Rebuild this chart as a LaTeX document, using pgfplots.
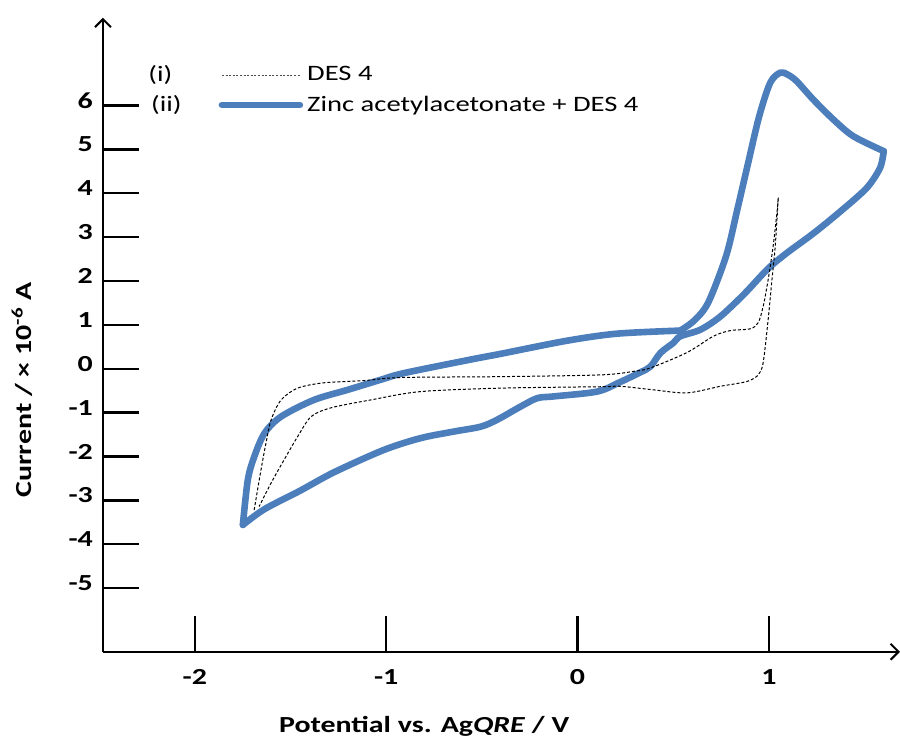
\documentclass[border=0pt]{standalone}
\usepackage{fontspec}
\setmainfont{Carlito}[FakeStretch=1.3]
\usepackage{pgfplots}
\pgfplotsset{compat=1.18}
\usetikzlibrary{arrows.meta}
\definecolor{cvblue}{RGB}{76,126,188}

\begin{document}
\begin{tikzpicture}
\begin{axis}[
  scale only axis, width=398.5pt, height=317pt,
  xmin=-2.48, xmax=1.685, ymin=-6.45, ymax=8.0,
  axis lines=left, clip=false,
  axis line style={line width=1.2pt, -{Straight Barb[length=4pt,width=8pt,line width=1pt]}},
  tick align=inside, major tick length=18pt,
  tick style={line width=1.2pt, black},
  xtick={-2,-1,0,1}, xticklabels={-2,-1,0,1},
  ytick={-5,-4,-3,-2,-1,0,1,2,3,4,5,6},
  yticklabels={-5,-4,-3,-2,-1,0,1,2,3,4,5,6},
  ticklabel style={font=\fontsize{11.5}{13}\selectfont\bfseries},
  xticklabel style={yshift=-5.5pt},
  yticklabel style={yshift=2.5pt, xshift=-1.5pt},
  xlabel={Potential vs. Ag\textit{QRE} / V},
  ylabel={Current / × 10\textsuperscript{-6} A},
  label style={font=\fontsize{11.5}{13}\selectfont\bfseries},
  xlabel style={at={(axis description cs:0.403,-0.117)}, anchor=center},
  ylabel style={at={(axis description cs:-0.1016,0.413)}, anchor=center},
  legend style={draw=none, fill=none, at={(axis description cs:0.0565,0.93)}, anchor=north west,
    font=\fontsize{11}{13}\selectfont, row sep=2pt, inner sep=0pt,
    /tikz/every even column/.append style={column sep=5pt}},
  legend cell align=left, reverse legend,
]
% (ii) zinc acetylacetonate + DES 4
\addplot[cvblue, line width=3.3pt, smooth, tension=0.5, line cap=round, line join=round,
  legend image code/.code={\node[anchor=west,inner sep=0pt,text=black] at (-37pt,0pt) {(ii)};
    \draw[cvblue, line width=3.3pt] (0pt,0pt) -- (39pt,0pt);}]
  coordinates {(-1.749,-3.56) (-1.723,-2.53) (-1.689,-2.00) (-1.636,-1.47) (-1.549,-1.09)
    (-1.377,-0.71) (-1.201,-0.48) (-1.028,-0.25) (-0.908,-0.10) (-0.558,0.21) (-0.402,0.34)
    (-0.054,0.64) (0.207,0.80) (0.537,0.87)};
\addlegendentry{Zinc acetylacetonate + DES 4}
\addplot[forget plot, cvblue, line width=3.3pt, smooth, tension=0.5, line cap=round, line join=round]
  coordinates {(0.537,0.87) (0.610,1.10) (0.683,1.51) (0.777,2.58) (0.835,3.63) (0.892,4.70)
    (0.949,5.75) (1.007,6.52) (1.060,6.75) (1.100,6.70) (1.146,6.55) (1.233,6.13) (1.337,5.68)
    (1.441,5.30) (1.600,4.96)};
\addplot[forget plot, cvblue, line width=3.3pt, smooth, tension=0.5, line cap=round, line join=round]
  coordinates {(1.600,4.96) (1.581,4.58) (1.511,4.12) (1.372,3.58) (1.231,3.08) (1.094,2.64)
    (0.995,2.28) (0.870,1.70) (0.746,1.19) (0.642,0.89) (0.537,0.74) (0.501,0.59) (0.433,0.36)
    (0.381,0.05) (0.329,-0.08) (0.224,-0.30) (0.103,-0.52) (-0.124,-0.63) (-0.210,-0.67)
    (-0.297,-0.86) (-0.419,-1.16) (-0.506,-1.32) (-0.645,-1.43) (-0.819,-1.58) (-1.012,-1.85)
    (-1.273,-2.36) (-1.450,-2.78) (-1.636,-3.20) (-1.749,-3.56)};
% (i) DES 4
\addplot[black, line width=0.5pt, dash pattern=on 1.5pt off 1pt, smooth, tension=0.5,
  legend image code/.code={\node[anchor=west,inner sep=0pt,text=black] at (-37pt,0pt) {(i)};
    \draw[black!70, line width=0.5pt, dash pattern=on 1pt off 0.8pt] (0pt,0pt) -- (39pt,0pt);}]
  coordinates {(-1.690,-3.22) (-1.654,-2.30) (-1.628,-1.69) (-1.601,-1.16) (-1.549,-0.71)
    (-1.462,-0.44) (-1.325,-0.32) (-1.116,-0.27) (-0.923,-0.20) (-0.402,-0.18) (0.120,-0.14)
    (0.292,-0.06) (0.381,0.02) (0.572,0.37) (0.709,0.74) (0.798,0.87) (0.902,0.91) (0.944,1.05)
    (0.970,1.42) (0.996,2.03) (1.022,2.79) (1.042,3.56) (1.049,3.90)};
\addlegendentry{DES 4}
\addplot[forget plot, black, line width=0.5pt, dash pattern=on 1.5pt off 1pt, smooth, tension=0.5]
  coordinates {(1.049,3.90) (1.033,2.79) (1.016,2.03) (0.996,1.12) (0.970,0.14) (0.944,-0.14)
    (0.885,-0.29) (0.746,-0.40) (0.572,-0.55) (0.396,-0.48) (0.224,-0.40) (0.120,-0.41)
    (-0.386,-0.44) (-0.819,-0.52) (-1.080,-0.71) (-1.288,-0.89) (-1.392,-1.09) (-1.462,-1.54)
    (-1.534,-2.08) (-1.601,-2.60) (-1.664,-3.14)};
\coordinate (bbsw) at (rel axis cs:-0.1292,-0.142);
\coordinate (bbne) at (rel axis cs:1.0,1.028);
\end{axis}
\pgfresetboundingbox
\path[use as bounding box] (bbsw) rectangle (bbne);
\end{tikzpicture}
\end{document}
